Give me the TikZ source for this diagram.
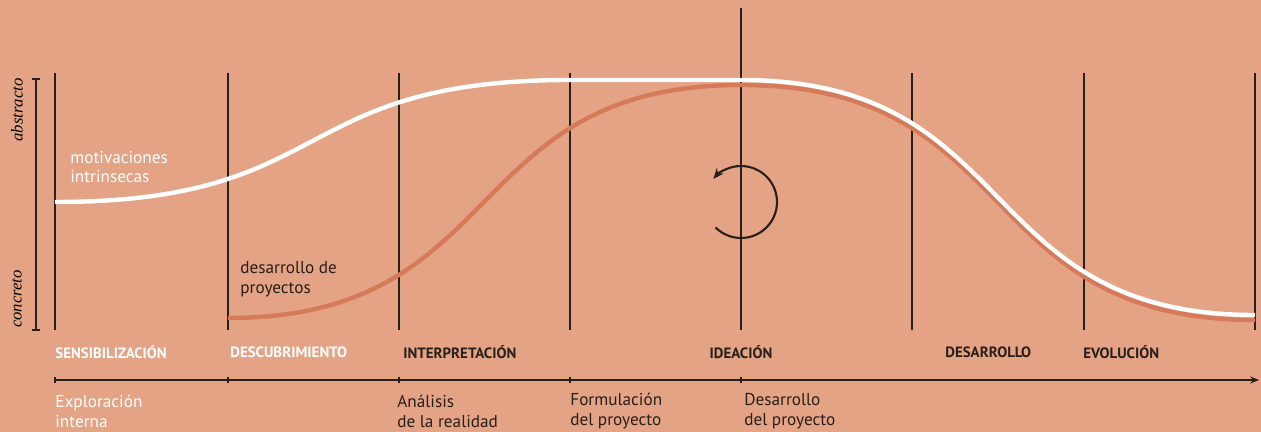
\documentclass[tikz,border=0pt]{standalone}
\usepackage{fontspec}
\setmainfont{PT Sans}
\newfontfamily\levelfont{Liberation Serif}
\usetikzlibrary{positioning,arrows.meta}
\definecolor{bgpeach}{RGB}{229,163,133}
\definecolor{curveorange}{RGB}{214,122,90}
\definecolor{inkdark}{RGB}{40,30,26}

\begin{document}
\begin{tikzpicture}[
  x=0.02cm, y=0.02cm,
  border/.style={inkdark,line width=0.7pt},
  phasename/.style={font=\fontsize{8.5}{10}\selectfont\bfseries,inner sep=0pt},
  steptext/.style={font=\fontsize{9.8}{11.3}\selectfont,align=left,inner sep=0pt,anchor=west},
  levellabel/.style={font=\levelfont\itshape\fontsize{9.5}{10}\selectfont,rotate=90,inner sep=0pt}
]
\fill[bgpeach] (0,0) rectangle (1261,432);
\useasboundingbox (0,0) rectangle (1261,432);

% phase borders
\foreach \n/\x in {a/55,b/228,c/399,d/570,f/912,g/1084,h/1255}{
  \coordinate (top\n) at (\x,359);
  \coordinate (bot\n) at (\x,102);
  \draw[border] (top\n) -- (bot\n);
}
\coordinate (tope) at (741,424);
\coordinate (bote) at (741,102);
\draw[border] (tope) -- (bote);

% level axis
\coordinate (abs) at (36,354);
\coordinate (con) at (36,101);
\draw[inkdark,line width=1pt,{Bar[width=5pt]}-{Bar[width=5pt]}] (abs) -- (con);
\node[levellabel] (abstracto) at (17,322) {abstracto};
\node[levellabel] (concreto) at (17,133) {concreto};

% curves
\draw[curveorange,line width=2.5pt]
  (228,114) .. controls (510,114) and (459,347) .. (741,347)
  .. controls (1024,347) and (972,112) .. (1255,112);
\draw[white,line width=2.5pt]
  (55,230) .. controls (338,230) and (287,352) .. (570,352)
  -- (741,352) .. controls (1024,352) and (972,117) .. (1255,117);

\node[steptext,white] (motiv) at (70,265) {motivaciones\\intrinsecas};
\node[steptext,inkdark] (desarr) at (240,153) {desarrollo de\\proyectos};

% ideation cycle
\coordinate (cycle) at (741,230);
\draw[inkdark,line width=1.2pt,-{Stealth[length=6pt,width=5pt]}]
  ([shift={(225:36)}]cycle) arc[start angle=225,end angle=500,radius=36];

% phase names
\node[phasename,white,anchor=west] (sens) at (55,80) {SENSIBILIZACIÓN};
\node[phasename,white,anchor=west] (desc) at (230,80) {DESCUBRIMIENTO};
\node[phasename,inkdark,anchor=west] (inter) at (403,80) {INTERPRETACIÓN};
\node[phasename,inkdark] (idea) at (741,80) {IDEACIÓN};
\node[phasename,inkdark,anchor=west] (desa) at (945,80) {DESARROLLO};
\node[phasename,inkdark,anchor=west] (evol) at (1083,80) {EVOLUCIÓN};

% timeline
\coordinate (tstart) at (55,52);
\coordinate (tend) at (1259,52);
\draw[border,-{Stealth[length=5pt,width=4pt]}] (tstart) -- (tend);
\foreach \x in {55,228,399,570,741}{
  \coordinate (tk1) at (\x,49);
  \coordinate (tk2) at (\x,55);
  \draw[border] (tk1) -- (tk2);
}
\node[steptext,white] (explo) at (55,21) {Exploración\\interna};
\node[steptext,inkdark] (anali) at (397,21) {Análisis\\de la realidad};
\node[steptext,inkdark] (formu) at (570,21) {Formulación\\del proyecto};
\node[steptext,inkdark] (desproy) at (744,21) {Desarrollo\\del proyecto};
\end{tikzpicture}
\end{document}
